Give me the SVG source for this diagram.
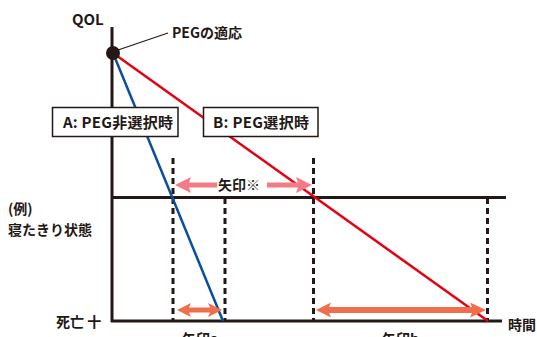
<svg xmlns="http://www.w3.org/2000/svg" width="537" height="337" viewBox="0 0 537 337">
<style>
text{font-family:"Noto Sans CJK JP","Liberation Sans",sans-serif;font-weight:700;fill:#231815}
.axis{stroke:#231815;stroke-width:3;fill:none}
.dash{stroke:#231815;stroke-width:3;stroke-dasharray:6 4;fill:none}
.box{fill:#fff;stroke:#231815;stroke-width:1.5}
.pink{fill:#f27b86}
.orange{fill:#ef6e4b}
</style>
<rect width="537" height="337" fill="#fff"/>
<g id="connectors">
<line class="axis" x1="112" y1="27" x2="112" y2="322"/>
<line class="axis" x1="111" y1="321" x2="502" y2="321"/>
<line class="axis" x1="111" y1="197.5" x2="506" y2="197.5"/>
<line class="dash" x1="173" y1="158" x2="173" y2="320"/>
<line class="dash" x1="225" y1="198" x2="225" y2="320"/>
<line class="dash" x1="313.5" y1="158" x2="313.5" y2="320"/>
<line class="dash" x1="487.5" y1="198" x2="487.5" y2="320"/>
<line x1="113" y1="53" x2="223" y2="321" stroke="#0a4ea0" stroke-width="2.5"/>
<line x1="113" y1="53" x2="488" y2="321" stroke="#e60012" stroke-width="2.5"/>
<line x1="118" y1="50" x2="168" y2="33" stroke="#231815" stroke-width="1.2"/>
<polygon class="pink" points="175,185 191,177 189,182.5 217,182.5 217,187.5 189,187.5 191,193"/>
<polygon class="pink" points="312,185 296,177 298,182.5 267,182.5 267,187.5 298,187.5 296,193"/>
<polygon class="orange" points="177,310 191,303 189,307.5 210,307.5 208,303 222,310 208,317 210,312.5 189,312.5 191,317"/>
<polygon class="orange" points="316,310 331,302.5 329,307 472,307 470,302.5 486,310 470,317.5 472,313 329,313 331,317.5"/>
</g>
<g id="point"><circle cx="113" cy="53" r="7" fill="#231815"/></g>
<g id="labelA"><rect class="box" x="52.5" y="107.5" width="125.5" height="29"/>
<text x="63" y="128" font-size="15" textLength="110">A: PEG非選択時</text></g>
<g id="labelB"><rect class="box" x="203.5" y="107.5" width="114.5" height="29"/>
<text x="213" y="128" font-size="15" textLength="96">B: PEG選択時</text></g>
<g id="texts">
<text x="72" y="25" font-size="15">QOL</text>
<text x="172" y="38" font-size="14">PEGの適応</text>
<text x="218" y="190" font-size="14">矢印※</text>
<text x="8" y="214" font-size="14">(例)</text>
<text x="8" y="235" font-size="14">寝たきり状態</text>
<text x="56" y="327" font-size="14">死亡 十</text>
<text x="508" y="330" font-size="14">時間</text>
<text x="182" y="344" font-size="14">矢印a</text>
<text x="382" y="344" font-size="14">矢印b</text>
</g>
</svg>
